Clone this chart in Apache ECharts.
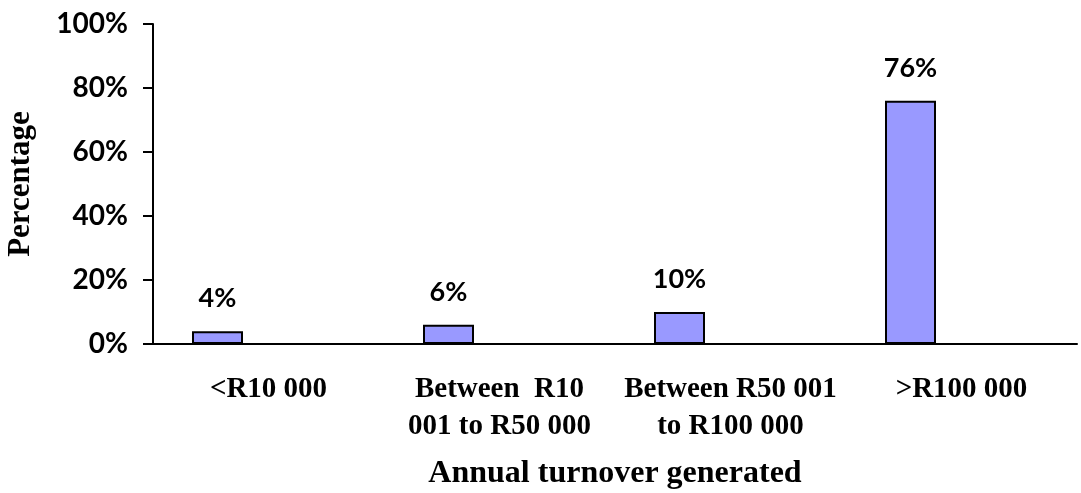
<!DOCTYPE html>
<html>
<head>
<meta charset="utf-8">
<script src="https://cdn.jsdelivr.net/npm/echarts@6/dist/echarts.min.js"></script>
<style>
  html, body { margin: 0; padding: 0; background: #fff; }
  #chart { width: 1081px; height: 493px; }
</style>
</head>
<body>
<div id="chart"></div>
<script>
  // categories and values
  var categories = ['<R10 000', 'Between  R10\n001 to R50 000', 'Between R50 001\nto R100 000', '>R100 000'];
  var percentages = [4, 6, 10, 76];
  var emptySeries = ['-', '-', '-', '-'];
  var yTicks = [0, 20, 40, 60, 80, 100];

  var chart = echarts.init(document.getElementById('chart'));
  chart.setOption({
    animation: false,
    grid: { left: 153, right: 4, top: 24, bottom: 149, outerBoundsMode: 'none', containLabel: false },
    xAxis: {
      type: 'category',
      data: categories,
      name: 'Annual turnover generated',
      nameLocation: 'middle',
      nameGap: 114,
      nameTextStyle: { fontFamily: 'Liberation Serif', fontWeight: 'bold', fontSize: 32, color: '#000' },
      axisLine: { lineStyle: { color: '#000', width: 2 } },
      axisTick: { length: 10, lineStyle: { color: '#000', width: 2 } },
      axisLabel: {
        margin: 27,
        fontFamily: 'Liberation Serif', fontWeight: 'bold', fontSize: 29, color: '#000',
        lineHeight: 37, interval: 0
      }
    },
    yAxis: {
      type: 'value',
      min: yTicks[0],
      max: yTicks[yTicks.length - 1],
      interval: 20,
      name: 'Percentage',
      nameLocation: 'middle',
      nameGap: 117,
      nameTextStyle: { fontFamily: 'Liberation Serif', fontWeight: 'bold', fontSize: 31, color: '#000' },
      axisLine: { show: true, lineStyle: { color: '#000', width: 2 } },
      axisTick: { show: true, length: 10, lineStyle: { color: '#000', width: 2 } },
      splitLine: { show: false },
      axisLabel: {
        margin: 25,
        formatter: '{value}%',
        fontFamily: 'Lato', fontWeight: 'bold', fontSize: 28, color: '#000'
      }
    },
    series: [
      {
        type: 'bar',
        data: percentages,
        barWidth: 51,
        barGap: '100%',
        itemStyle: { color: '#9999FF', borderColor: '#000', borderWidth: 2 },
        label: {
          show: true, position: 'top', distance: 19,
          formatter: '{c}%',
          fontFamily: 'Lato', fontWeight: 'bold', fontSize: 27, color: '#000'
        }
      },
      {
        type: 'bar',
        data: emptySeries,
        barWidth: 51
      }
    ]
  });
</script>
</body>
</html>
